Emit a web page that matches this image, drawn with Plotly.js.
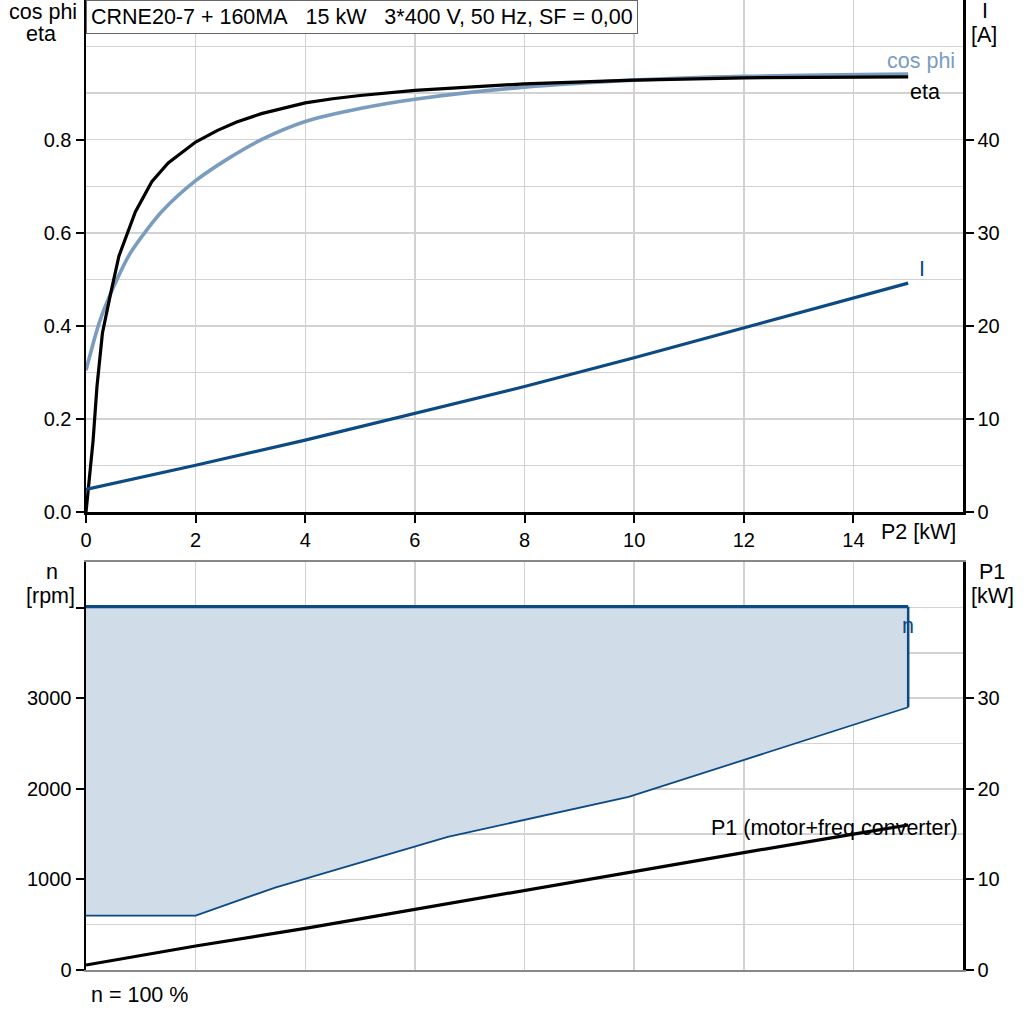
<!DOCTYPE html>
<html>
<head>
<meta charset="utf-8">
<script src="https://cdn.plot.ly/plotly-3.0.1.min.js"></script>
<style>html,body{margin:0;padding:0;background:#fff;}#chart{width:1024px;height:1024px;}</style>
</head>
<body>
<div id="chart"></div>
<script>
// ---- data ----
const etaP2  = [0, 0.13, 0.2, 0.3, 0.45, 0.6, 0.9, 1.2, 1.5, 2, 2.4, 2.75, 3.2, 3.6, 4, 4.5, 5, 6, 8, 10, 12, 15];
const etaVal = [0, 0.155, 0.27, 0.385, 0.47, 0.55, 0.645, 0.71, 0.75, 0.795, 0.82, 0.838, 0.856, 0.868, 0.879, 0.888, 0.895, 0.906, 0.92, 0.928, 0.933, 0.935];

const cosP2  = [0, 0.25, 0.5, 0.8, 1.1, 1.4, 2, 2.6, 3.2, 4, 5, 6, 8, 10, 12, 15];
const cosVal = [0.305, 0.41, 0.483, 0.555, 0.605, 0.648, 0.712, 0.76, 0.8, 0.839, 0.867, 0.887, 0.913, 0.928, 0.936, 0.941];

const iP2  = [0, 2, 4, 6, 8, 10, 12, 14, 15];
const iVal = [2.45, 5.05, 7.75, 10.6, 13.5, 16.6, 19.8, 23.0, 24.6];

const nMaxP2 = [0, 15];
const nMax   = [4010, 4010];
const nMinP2 = [0, 2, 3.45, 6.6, 9.9, 15];
const nMin   = [600, 600, 910, 1470, 1910, 2900];

const p1P2  = [0, 2, 4, 6, 8, 10, 12, 14, 15];
const p1Val = [0.55, 2.65, 4.6, 6.7, 8.8, 10.85, 12.95, 15.0, 16.0];

const xTicks    = [0, 2, 4, 6, 8, 10, 12, 14];
const effTicks  = [0, 0.2, 0.4, 0.6, 0.8];
const iTicks    = [0, 10, 20, 30, 40];
const nTicks    = [0, 1000, 2000, 3000, 4000];
const nTickText = ['0', '1000', '2000', '3000', ''];
const p1Ticks   = [0, 10, 20, 30];

const titleText = 'CRNE20-7 + 160MA\u00a0\u00a0\u00a015 kW\u00a0\u00a0\u00a03*400 V, 50 Hz, SF = 0,00';

// ---- colours ----
const cBlack = '#000000';
const cCos = '#7a9cbf';
const cDark = '#0c4a84';
const cFill = 'rgba(208,220,232,1)';
const cGrid = '#d2d2d2';

// polygon for the speed band
const bandX = nMaxP2.concat(nMinP2.slice().reverse());
const bandY = nMax.concat(nMin.slice().reverse());

const traces = [
  {x: bandX, y: bandY, xaxis: 'x2', yaxis: 'y3', fill: 'toself', fillcolor: cFill, mode: 'lines', line: {width: 0}, hoverinfo: 'skip'},
  {x: nMinP2, y: nMin, xaxis: 'x2', yaxis: 'y3', mode: 'lines', line: {color: cDark, width: 1.8}},
  {x: [nMaxP2[1], nMinP2[nMinP2.length-1]], y: [nMax[1], nMin[nMin.length-1]], xaxis: 'x2', yaxis: 'y3', mode: 'lines', line: {color: cDark, width: 2.5}},
  {x: nMaxP2, y: nMax, xaxis: 'x2', yaxis: 'y3', mode: 'lines', line: {color: cDark, width: 3.2}},
  {x: p1P2, y: p1Val, xaxis: 'x2', yaxis: 'y4', mode: 'lines', line: {color: cBlack, width: 3.2}},
  {x: iP2, y: iVal, xaxis: 'x', yaxis: 'y2', mode: 'lines', line: {color: cDark, width: 3.2}},
  {x: cosP2, y: cosVal, xaxis: 'x', yaxis: 'y', mode: 'lines', line: {color: cCos, width: 3.6, shape: 'spline', smoothing: 0.8}},
  {x: etaP2, y: etaVal, xaxis: 'x', yaxis: 'y', mode: 'lines', line: {color: cBlack, width: 3.2}}
];

const W = 1024, L = 86, R = 61, B = 54, T = 0;
const plotW = W - L - R, plotH = 1024 - T - B;
const px = v => (v - L) / plotW;
const py = v => (1024 - B - v) / plotH;

const fontMain = {family: 'Liberation Sans, Arial, sans-serif', size: 20, color: '#000'};
const fontAnn = {family: 'Liberation Sans, Arial, sans-serif', size: 21.5, color: '#000'};

function ann(text, x, y, opts) {
  return Object.assign({text: text, xref: 'paper', yref: 'paper', x: px(x), y: py(y), showarrow: false,
    font: fontAnn, xanchor: 'center', yanchor: 'middle'}, opts || {});
}
const colFont = c => Object.assign({}, fontAnn, {color: c});

const layout = {
  width: 1024, height: 1024,
  margin: {l: L, r: R, t: T, b: B, pad: 0},
  paper_bgcolor: '#fff', plot_bgcolor: '#fff',
  showlegend: false,
  font: fontMain,
  xaxis: {domain: [0, 1], range: [0, 16], tickvals: xTicks, ticks: 'outside', ticklen: 8, tickwidth: 2, tickcolor: '#000',
    showline: true, linecolor: '#000', linewidth: 2.5, mirror: true, showgrid: true, gridcolor: cGrid, gridwidth: 1.5,
    minor: {dtick: 2, showgrid: true, gridcolor: cGrid, gridwidth: 1.5}, zeroline: false, anchor: 'y', tickfont: fontMain},
  yaxis: {domain: [py(512.3), 1], range: [0, 1.1], tickvals: effTicks, tickformat: '.1f', ticks: 'outside', ticklen: 8, tickwidth: 2,
    tickcolor: '#000', showline: true, linecolor: '#000', linewidth: 2.5, showgrid: true, gridcolor: cGrid, gridwidth: 1.5,
    minor: {dtick: 0.1, showgrid: true, gridcolor: cGrid, gridwidth: 1.5}, zeroline: false, anchor: 'x', tickfont: fontMain},
  yaxis2: {overlaying: 'y', side: 'right', range: [0, 55], tickvals: iTicks, ticks: 'outside', ticklen: 8, tickwidth: 2,
    tickcolor: '#000', showline: true, linecolor: '#000', linewidth: 2.5, showgrid: false, zeroline: false, anchor: 'x', tickfont: fontMain},
  xaxis2: {domain: [0, 1], range: [0, 16], dtick: 2, showticklabels: false, ticks: '', showline: true, linecolor: '#888',
    linewidth: 2, mirror: true, showgrid: true, gridcolor: cGrid, gridwidth: 1.5, zeroline: false, anchor: 'y3'},
  yaxis3: {domain: [0, py(562.3)], range: [0, 4500], tickvals: nTicks, ticktext: nTickText, ticks: 'outside', ticklen: 8, tickwidth: 2,
    tickcolor: '#000', showline: true, linecolor: '#000', linewidth: 2.5, showgrid: true, gridcolor: cGrid, gridwidth: 1.5,
    minor: {dtick: 500, showgrid: true, gridcolor: cGrid, gridwidth: 1.5}, zeroline: false, anchor: 'x2', tickfont: fontMain},
  yaxis4: {overlaying: 'y3', side: 'right', range: [0, 45], tickvals: p1Ticks, ticks: 'outside', ticklen: 8, tickwidth: 2,
    tickcolor: '#000', showline: true, linecolor: '#000', linewidth: 2.5, showgrid: false, zeroline: false, anchor: 'x2', tickfont: fontMain},
  annotations: [
    {text: titleText, xref: 'paper', yref: 'paper', x: 0, y: 1, xanchor: 'left', yanchor: 'top', showarrow: false,
      font: fontAnn, bgcolor: '#fff', bordercolor: '#666', borderwidth: 1, borderpad: 4},
    ann('cos phi', 42.5, 12),
    ann('eta', 41, 34),
    ann('I', 985, 11),
    ann('[A]', 984, 35),
    ann('n', 52, 572),
    ann('[rpm]', 50, 596),
    ann('P1', 991.5, 572),
    ann('[kW]', 992, 596),
    ann('P2 [kW]', 918.5, 532),
    ann('n = 100 %', 89, 995, {xanchor: 'left'}),
    ann('cos phi', 957, 61, {xanchor: 'right', font: colFont(cCos)}),
    ann('eta', 908, 92, {xanchor: 'left'}),
    ann('I', 922, 269, {font: colFont(cDark)}),
    ann('n', 908, 626, {font: colFont(cDark)}),
    ann('P1 (motor+freq converter)', 960, 828, {xanchor: 'right'})
  ]
};

Plotly.newPlot('chart', traces, layout, {staticPlot: true, displayModeBar: false});
</script>
</body>
</html>
